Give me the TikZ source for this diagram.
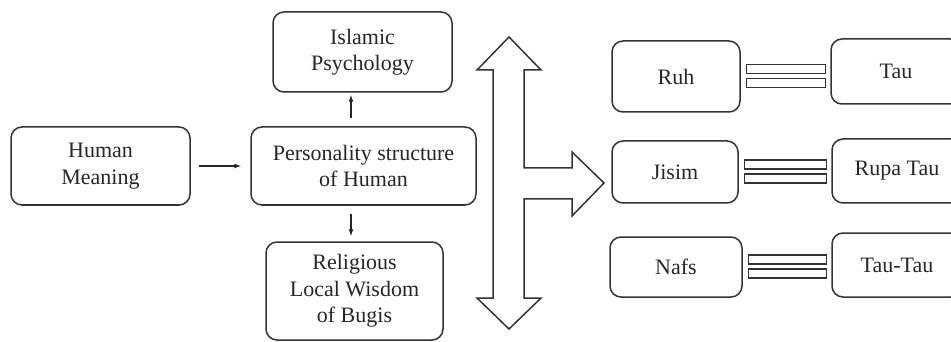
\documentclass[tikz,border=0pt]{standalone}
\usepackage{fontspec}
\setmainfont{Liberation Serif}
\usetikzlibrary{arrows.meta,calc}

\begin{document}
\begin{tikzpicture}[x=1pt,y=-1pt,>={Latex[length=7pt,width=5pt]},
  font=\fontsize{22}{26.5}\selectfont,
  box/.style={draw=black!80,line width=1.5pt,rounded corners=11pt,align=center,inner sep=0pt,text=black!85},
  bar/.style={draw=black!80,line width=1.4pt,fill=white},
  link/.style={->,line width=1.2pt,black!85}]
\useasboundingbox (0,0) rectangle (951,342);
% left part
\node[box,minimum width=179pt,minimum height=78pt] (human) at (100.5,166) {Human\\Meaning};
\node[box,minimum width=225pt,minimum height=78pt] (person) at (363.5,166) {Personality structure\\of Human};
\node[box,minimum width=179pt,minimum height=80pt] (islam) at (362.5,52) {Islamic\\Psychology};
\node[box,minimum width=177pt,minimum height=98pt] (bugis) at (354.5,291) {Religious\\Local Wisdom\\of Bugis};
\draw[link,shorten <=8pt,shorten >=9pt] (human) -- (person);
\draw[link,shorten <=8pt,shorten >=2pt] ([xshift=-12.5pt]person.north) -- ([xshift=-12.5pt]person.north |- islam.south);
\draw[link,shorten <=8pt,shorten >=5pt] ([xshift=-12.5pt]person.south) -- ([xshift=-12.5pt]person.south |- bugis.north);
% big arrow
\draw[line width=1.5pt,draw=black!80,line join=miter]
  (509,37) -- (541,70) -- (524,70) -- (524,168) -- (572,168) -- (572,152) -- (604,183)
  -- (572,216) -- (572,199) -- (524,199) -- (524,298) -- (541,298) -- (509,329)
  -- (477,298) -- (493,298) -- (493,70) -- (477,70) -- cycle;
% right part
\node[box,minimum width=128pt,minimum height=71pt] (ruh) at (676,76.5) {Ruh};
\node[box,minimum width=126pt,minimum height=62pt] (jisim) at (675,172) {Jisim};
\node[box,minimum width=132pt,minimum height=60pt] (nafs) at (676,267) {Nafs};
\node[box,minimum width=130pt,minimum height=65pt] (tau) at (896,71.5) {Tau};
\node[box,minimum width=130pt,minimum height=64pt] (rupa) at (897,171) {Rupa Tau};
\node[box,minimum width=130pt,minimum height=64pt] (tautau) at (897,265) {Tau-Tau};
\foreach \a/\b in {ruh/tau,jisim/rupa,nafs/tautau}{
  \draw[bar] ($(\a.east)+(6,-12)$) rectangle ($(\a.east -| \b.west)+(-5,-3)$);
  \draw[bar] ($(\a.east)+(6,2)$) rectangle ($(\a.east -| \b.west)+(-5,11)$);
}
\end{tikzpicture}
\end{document}
